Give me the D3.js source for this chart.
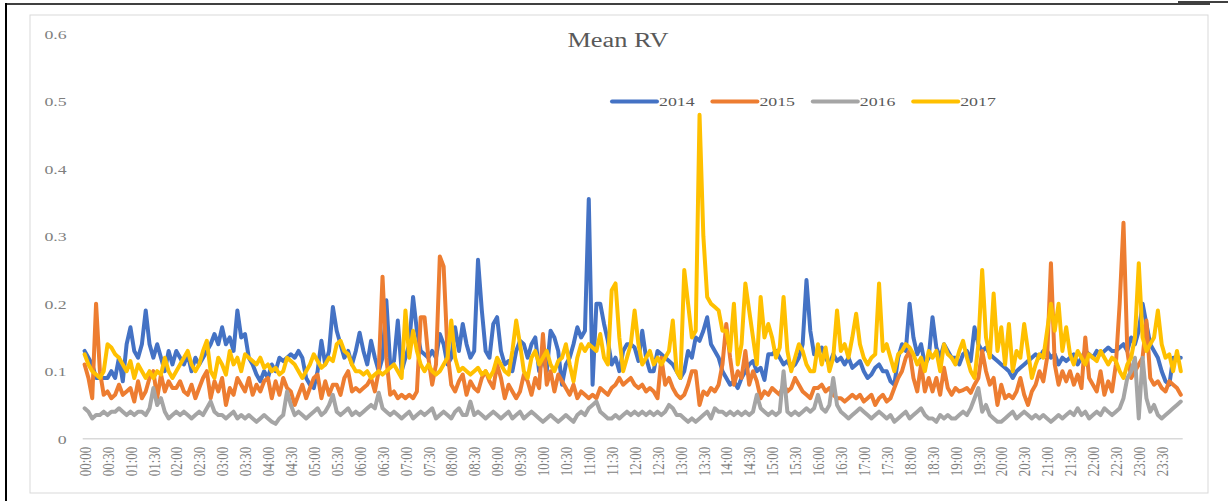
<!DOCTYPE html>
<html>
<head>
<meta charset="utf-8">
<script src="https://cdn.jsdelivr.net/npm/d3@7"></script>
<style>
  body { margin: 0; background: #fff; }
  text { font-family: "Liberation Serif", "DejaVu Serif", serif; }
</style>
</head>
<body>
<div id="chart"></div>
<script>
// data: mean RV per 5-minute slot, 288 slots per year
var years = ["2014", "2015", "2016", "2017"];
var colors = ["#4472C4", "#ED7D31", "#A5A5A5", "#FFC000"];

var rv2014 = [
  0.13, 0.12, 0.11, 0.09, 0.09, 0.09,   0.09, 0.10, 0.09, 0.12, 0.085, 0.14,
  0.165, 0.13, 0.12, 0.14, 0.19, 0.14,  0.12, 0.14, 0.12, 0.10, 0.13, 0.11,
  0.13, 0.12, 0.11, 0.125, 0.10, 0.12,  0.11, 0.12, 0.13, 0.14, 0.155, 0.14,
  0.165, 0.14, 0.15, 0.13, 0.19, 0.15,  0.155, 0.12, 0.11, 0.095, 0.085, 0.10,
  0.09, 0.11, 0.10, 0.12, 0.115, 0.12,  0.125, 0.12, 0.13, 0.12, 0.09, 0.08,
  0.075, 0.10, 0.145, 0.11, 0.13, 0.195, 0.16, 0.14, 0.12, 0.13, 0.11, 0.13,
  0.157, 0.13, 0.11, 0.145, 0.12, 0.10, 0.12, 0.205, 0.11, 0.115, 0.175, 0.10,
  0.12, 0.14, 0.21, 0.16, 0.13, 0.125,  0.12, 0.13, 0.12, 0.155, 0.14, 0.11,
  0.12, 0.165, 0.13, 0.17, 0.14, 0.12,  0.13, 0.265, 0.19, 0.13, 0.12, 0.17,
  0.18, 0.13, 0.11, 0.115, 0.10, 0.13,  0.145, 0.14, 0.12, 0.14, 0.15, 0.10,
  0.12, 0.10, 0.16, 0.15, 0.13, 0.08,   0.11, 0.12, 0.14, 0.165, 0.15, 0.16,
  0.355, 0.08, 0.20, 0.20, 0.17, 0.145, 0.11, 0.12, 0.10, 0.13, 0.14, 0.14,
  0.135, 0.115, 0.16, 0.12, 0.10, 0.10, 0.13, 0.125, 0.12, 0.115, 0.11, 0.10,
  0.09, 0.10, 0.13, 0.12, 0.15, 0.145,  0.16, 0.18, 0.14, 0.13, 0.12, 0.10,
  0.09, 0.08, 0.085, 0.075, 0.09, 0.10, 0.11, 0.115, 0.10, 0.105, 0.087, 0.125,
  0.125, 0.13, 0.12, 0.11, 0.115, 0.105, 0.11, 0.12, 0.14, 0.235, 0.16, 0.125,
  0.125, 0.135, 0.12, 0.11, 0.125, 0.115, 0.12, 0.11, 0.12, 0.105, 0.11, 0.115,
  0.10, 0.09, 0.095, 0.105, 0.11, 0.10, 0.10, 0.085, 0.08, 0.12, 0.14, 0.13,
  0.20, 0.15, 0.125, 0.14, 0.11, 0.12,  0.18, 0.135, 0.12, 0.14, 0.13, 0.12,
  0.12, 0.11, 0.125, 0.13, 0.115, 0.165, 0.14, 0.13, 0.135, 0.125, 0.12, 0.115,
  0.11, 0.105, 0.10, 0.09, 0.10, 0.105, 0.11, 0.115, 0.12, 0.125, 0.12, 0.13,
  0.13, 0.12, 0.125, 0.11, 0.12, 0.115, 0.12, 0.125, 0.11, 0.12, 0.13, 0.125,
  0.12, 0.13, 0.125, 0.13, 0.135, 0.13, 0.13, 0.135, 0.14, 0.13, 0.15, 0.14,
  0.16, 0.20, 0.17, 0.14, 0.13, 0.12,   0.10, 0.085, 0.08, 0.12, 0.12, 0.12
];

var rv2015 = [
  0.11, 0.09, 0.06, 0.20, 0.10, 0.065,  0.07, 0.06, 0.065, 0.08, 0.065, 0.07,
  0.075, 0.055, 0.085, 0.06, 0.07, 0.09, 0.10, 0.06, 0.095, 0.07, 0.085, 0.075,
  0.075, 0.085, 0.07, 0.065, 0.08, 0.06, 0.075, 0.09, 0.10, 0.06, 0.085, 0.07,
  0.09, 0.05, 0.075, 0.065, 0.09, 0.08, 0.07, 0.09, 0.065, 0.08, 0.07, 0.085,
  0.09, 0.06, 0.085, 0.065, 0.09, 0.075, 0.07, 0.05, 0.065, 0.08, 0.06, 0.075,
  0.09, 0.095, 0.06, 0.085, 0.065, 0.08, 0.08, 0.065, 0.09, 0.10, 0.07, 0.075,
  0.07, 0.075, 0.08, 0.09, 0.07, 0.10,  0.24, 0.12, 0.065, 0.07, 0.06, 0.065,
  0.06, 0.065, 0.06, 0.07, 0.18, 0.18,  0.12, 0.08, 0.11, 0.27, 0.255, 0.13,
  0.08, 0.07, 0.085, 0.095, 0.065, 0.085, 0.075, 0.07, 0.09, 0.10, 0.085, 0.075,
  0.11, 0.09, 0.06, 0.08, 0.07, 0.06,   0.07, 0.095, 0.085, 0.065, 0.09, 0.075,
  0.155, 0.08, 0.10, 0.07, 0.095, 0.085, 0.075, 0.065, 0.08, 0.06, 0.07, 0.065,
  0.06, 0.065, 0.06, 0.075, 0.07, 0.065, 0.075, 0.08, 0.09, 0.08, 0.085, 0.09,
  0.08, 0.075, 0.08, 0.07, 0.075, 0.07, 0.06, 0.12, 0.08, 0.09, 0.075, 0.065,
  0.06, 0.065, 0.08, 0.10, 0.10, 0.05,  0.07, 0.065, 0.075, 0.07, 0.08, 0.11,
  0.17, 0.12, 0.08, 0.10, 0.09, 0.13,   0.08, 0.10, 0.085, 0.06, 0.07, 0.065,
  0.075, 0.07, 0.065, 0.08, 0.07, 0.075, 0.09, 0.08, 0.07, 0.065, 0.06, 0.075,
  0.075, 0.08, 0.07, 0.075, 0.065, 0.06, 0.06, 0.055, 0.06, 0.065, 0.06, 0.065,
  0.055, 0.06, 0.065, 0.05, 0.06, 0.065, 0.055, 0.06, 0.075, 0.09, 0.10, 0.12,
  0.13, 0.09, 0.07, 0.11, 0.07, 0.09,   0.07, 0.09, 0.065, 0.105, 0.075, 0.065,
  0.075, 0.07, 0.072, 0.075, 0.068, 0.08, 0.09, 0.13, 0.10, 0.08, 0.09, 0.05,
  0.08, 0.06, 0.065, 0.06, 0.07, 0.09,  0.065, 0.05, 0.07, 0.08, 0.10, 0.085,
  0.12, 0.26, 0.11, 0.08, 0.10, 0.085,  0.10, 0.08, 0.095, 0.075, 0.15, 0.09,
  0.08, 0.07, 0.10, 0.065, 0.085, 0.07, 0.11, 0.20, 0.32, 0.13, 0.09, 0.10,
  0.11, 0.12, 0.175, 0.09, 0.08, 0.085, 0.075, 0.07, 0.085, 0.08, 0.075, 0.065
];

var rv2016 = [
  0.045, 0.04, 0.03, 0.035, 0.035, 0.04, 0.035, 0.04, 0.04, 0.045, 0.04, 0.035,
  0.04, 0.035, 0.04, 0.04, 0.035, 0.045, 0.075, 0.05, 0.06, 0.04, 0.03, 0.035,
  0.04, 0.035, 0.04, 0.035, 0.03, 0.035, 0.04, 0.035, 0.045, 0.055, 0.04, 0.035,
  0.035, 0.03, 0.035, 0.04, 0.03, 0.035, 0.03, 0.035, 0.03, 0.025, 0.03, 0.035,
  0.03, 0.025, 0.022, 0.03, 0.035, 0.07, 0.05, 0.035, 0.04, 0.035, 0.03, 0.035,
  0.04, 0.045, 0.035, 0.04, 0.05, 0.065, 0.04, 0.035, 0.04, 0.045, 0.035, 0.04,
  0.035, 0.04, 0.045, 0.05, 0.045, 0.068, 0.045, 0.04, 0.035, 0.04, 0.035, 0.03,
  0.035, 0.04, 0.03, 0.035, 0.04, 0.035, 0.04, 0.045, 0.03, 0.035, 0.04, 0.035,
  0.03, 0.04, 0.045, 0.035, 0.035, 0.055, 0.035, 0.04, 0.035, 0.03, 0.035, 0.04,
  0.035, 0.03, 0.035, 0.04, 0.03, 0.035, 0.04, 0.03, 0.035, 0.04, 0.035, 0.03,
  0.025, 0.03, 0.035, 0.03, 0.025, 0.03, 0.035, 0.03, 0.025, 0.035, 0.04, 0.035,
  0.045, 0.05, 0.055, 0.04, 0.035, 0.03, 0.03, 0.035, 0.03, 0.035, 0.04, 0.035,
  0.04, 0.035, 0.04, 0.035, 0.04, 0.035, 0.04, 0.035, 0.04, 0.05, 0.045, 0.035,
  0.035, 0.03, 0.025, 0.03, 0.025, 0.03, 0.035, 0.04, 0.03, 0.045, 0.04, 0.04,
  0.035, 0.04, 0.035, 0.04, 0.035, 0.04, 0.035, 0.04, 0.065, 0.045, 0.04, 0.035,
  0.04, 0.035, 0.04, 0.10, 0.04, 0.035, 0.04, 0.035, 0.04, 0.045, 0.04, 0.045,
  0.065, 0.045, 0.04, 0.05, 0.09, 0.05, 0.04, 0.035, 0.03, 0.035, 0.04, 0.045,
  0.04, 0.035, 0.03, 0.035, 0.04, 0.035, 0.03, 0.035, 0.025, 0.03, 0.035, 0.04,
  0.03, 0.035, 0.04, 0.045, 0.035, 0.03, 0.03, 0.025, 0.035, 0.03, 0.035, 0.03,
  0.03, 0.035, 0.04, 0.035, 0.045, 0.06, 0.075, 0.04, 0.05, 0.035, 0.03, 0.025,
  0.025, 0.03, 0.035, 0.04, 0.03, 0.035, 0.04, 0.035, 0.03, 0.035, 0.03, 0.035,
  0.03, 0.025, 0.03, 0.035, 0.03, 0.035, 0.04, 0.035, 0.045, 0.035, 0.04, 0.03,
  0.035, 0.04, 0.035, 0.045, 0.04, 0.035, 0.04, 0.045, 0.06, 0.09, 0.10, 0.12,
  0.03, 0.12, 0.06, 0.04, 0.05, 0.035, 0.03, 0.035, 0.04, 0.045, 0.05, 0.055
];

var rv2017 = [
  0.125, 0.11, 0.10, 0.095, 0.09, 0.10, 0.14, 0.135, 0.125, 0.12, 0.11, 0.10,
  0.115, 0.09, 0.11, 0.10, 0.09, 0.10,  0.09, 0.10, 0.095, 0.12, 0.10, 0.09,
  0.10, 0.11, 0.12, 0.13, 0.11, 0.10,   0.11, 0.13, 0.145, 0.10, 0.09, 0.12,
  0.11, 0.095, 0.13, 0.11, 0.12, 0.10,  0.125, 0.12, 0.115, 0.11, 0.12, 0.105,
  0.11, 0.10, 0.105, 0.095, 0.10, 0.12, 0.115, 0.11, 0.10, 0.09, 0.10, 0.11,
  0.125, 0.115, 0.105, 0.11, 0.12, 0.115, 0.14, 0.145, 0.13, 0.125, 0.11, 0.10,
  0.10, 0.095, 0.10, 0.09, 0.095, 0.10, 0.095, 0.10, 0.105, 0.11, 0.10, 0.09,
  0.19, 0.12, 0.16, 0.13, 0.11, 0.10,   0.11, 0.10, 0.095, 0.10, 0.11, 0.12,
  0.175, 0.12, 0.10, 0.105, 0.10, 0.095, 0.10, 0.105, 0.095, 0.10, 0.09, 0.10,
  0.12, 0.11, 0.10, 0.095, 0.13, 0.175, 0.14, 0.10, 0.09, 0.12, 0.13, 0.11,
  0.12, 0.13, 0.11, 0.10, 0.115, 0.12,  0.14, 0.11, 0.085, 0.12, 0.14, 0.13,
  0.14, 0.135, 0.13, 0.155, 0.12, 0.11, 0.22, 0.23, 0.15, 0.10, 0.12, 0.14,
  0.19, 0.14, 0.11, 0.12, 0.13, 0.11,   0.12, 0.11, 0.12, 0.13, 0.175, 0.10,
  0.09, 0.25, 0.20, 0.15, 0.16, 0.48,   0.30, 0.21, 0.20, 0.195, 0.19, 0.16,
  0.16, 0.13, 0.20, 0.11, 0.14, 0.23,   0.19, 0.15, 0.11, 0.21, 0.15, 0.17,
  0.15, 0.12, 0.135, 0.21, 0.13, 0.10,  0.12, 0.14, 0.13, 0.11, 0.10, 0.10,
  0.14, 0.11, 0.135, 0.10, 0.12, 0.19,  0.13, 0.14, 0.12, 0.15, 0.185, 0.14,
  0.12, 0.11, 0.12, 0.125, 0.23, 0.13,  0.14, 0.12, 0.10, 0.125, 0.13, 0.14,
  0.135, 0.125, 0.11, 0.12, 0.10, 0.13, 0.12, 0.13, 0.10, 0.14, 0.125, 0.12,
  0.11, 0.13, 0.145, 0.12, 0.10, 0.09,  0.14, 0.25, 0.15, 0.12, 0.215, 0.13,
  0.165, 0.11, 0.17, 0.10, 0.13, 0.12,  0.17, 0.13, 0.09, 0.11, 0.125, 0.12,
  0.16, 0.20, 0.16, 0.20, 0.13, 0.165,  0.125, 0.11, 0.13, 0.12, 0.11, 0.125,
  0.12, 0.115, 0.13, 0.12, 0.11, 0.12,  0.115, 0.10, 0.09, 0.11, 0.12, 0.15,
  0.26, 0.15, 0.13, 0.14, 0.15, 0.19,   0.14, 0.12, 0.125, 0.10, 0.13, 0.10
];

var seriesValues = [rv2014, rv2015, rv2016, rv2017];

// 5-minute slots and the 30-minute tick labels
var slots = d3.range(288);
var tickLabels = [
  "00:00","00:30","01:00","01:30","02:00","02:30","03:00","03:30",
  "04:00","04:30","05:00","05:30","06:00","06:30","07:00","07:30",
  "08:00","08:30","09:00","09:30","10:00","10:30","11:00","11:30",
  "12:00","12:30","13:00","13:30","14:00","14:30","15:00","15:30",
  "16:00","16:30","17:00","17:30","18:00","18:30","19:00","19:30",
  "20:00","20:30","21:00","21:30","22:00","22:30","23:00","23:30"
];
var yTicks = [0, 0.1, 0.2, 0.3, 0.4, 0.5, 0.6];

var svgWidth = 1228;
var svgHeight = 501;
var stretch = 1.32; // the picture is stretched sideways, text too

var svg = d3.select("#chart")
  .append("svg")
  .attr("width", svgWidth)
  .attr("height", svgHeight);

svg.append("rect")
  .attr("width", svgWidth)
  .attr("height", svgHeight)
  .attr("fill", "#fff");

// frame lines from the screenshot
svg.append("line")
  .attr("x1", 6).attr("x2", 6).attr("y1", 3).attr("y2", 501)
  .attr("stroke", "#000").attr("stroke-width", 2);
svg.append("line")
  .attr("x1", 5).attr("x2", 1210).attr("y1", 4).attr("y2", 4)
  .attr("stroke", "#000").attr("stroke-width", 1.5);
svg.append("line")
  .attr("x1", 1178).attr("x2", 1228).attr("y1", 2).attr("y2", 2)
  .attr("stroke", "#000").attr("stroke-width", 1.5);

// chart area border
svg.append("rect")
  .attr("x", 30).attr("y", 15)
  .attr("width", 1178).attr("height", 478)
  .attr("fill", "#fff")
  .attr("stroke", "#d9d9d9")
  .attr("stroke-width", 1);

var plot = { left: 82.7, right: 1182.7, top: 33.7, bottom: 438.7 };

var x = d3.scaleBand()
  .domain(slots)
  .range([plot.left, plot.right]);

var y = d3.scaleLinear()
  .domain([0, 0.6])
  .range([plot.bottom, plot.top]);

// x axis
var xAxis = d3.axisBottom(x)
  .tickValues(slots.filter(d => d % 6 === 0))
  .tickFormat(d => tickLabels[d / 6])
  .tickSize(0);

var xg = svg.append("g")
  .attr("transform", `translate(0, ${plot.bottom})`)
  .call(xAxis);

xg.select(".domain")
  .attr("stroke", "#d9d9d9")
  .attr("stroke-width", 1.5)
  .attr("d", `M${plot.left},0H${plot.right}`);

xg.selectAll(".tick text")
  .attr("x", 0).attr("y", 0).attr("dy", "0.36em")
  .attr("transform", `translate(0, 8) scale(${stretch}, 1) rotate(-90)`)
  .attr("text-anchor", "end")
  .attr("fill", "#7f7f7f")
  .style("font-size", "13px")
  .style("font-family", "'Liberation Serif', serif");

// y axis
var yAxis = d3.axisLeft(y)
  .tickValues(yTicks)
  .tickFormat(d => d === 0 ? "0" : d.toFixed(1))
  .tickSize(0);

var yg = svg.append("g")
  .attr("transform", `translate(${plot.left}, 0)`)
  .call(yAxis);

yg.select(".domain").remove();

yg.selectAll(".tick text")
  .attr("x", 0).attr("dy", "0.34em")
  .attr("transform", `translate(-16, 0) scale(${stretch}, 1)`)
  .attr("text-anchor", "end")
  .attr("fill", "#7f7f7f")
  .style("font-size", "13.5px")
  .style("font-family", "'Liberation Serif', serif");

// lines
var line = d3.line()
  .x((d, i) => x(i) + x.bandwidth() / 2)
  .y(d => y(d))
  .curve(d3.curveLinear);

svg.selectAll(".series")
  .data(seriesValues)
  .enter()
  .append("path")
  .attr("class", "series")
  .attr("d", d => line(d))
  .attr("fill", "none")
  .attr("stroke", (d, i) => colors[i])
  .attr("stroke-width", 4)
  .attr("stroke-linejoin", "round")
  .attr("stroke-linecap", "round");

// title
svg.append("text")
  .attr("transform", `translate(618, 47) scale(${stretch}, 1)`)
  .attr("text-anchor", "middle")
  .attr("fill", "#595959")
  .style("font-size", "20px")
  .text("Mean RV");

// legend
var legend = svg.selectAll(".legend")
  .data(years)
  .enter()
  .append("g")
  .attr("class", "legend")
  .attr("transform", (d, i) => `translate(${612 + i * 100.4}, 101.5)`);

legend.append("line")
  .attr("x1", 0).attr("x2", 45)
  .attr("stroke", (d, i) => colors[i])
  .attr("stroke-width", 4)
  .attr("stroke-linecap", "round");

legend.append("text")
  .attr("transform", `translate(47, 4.8) scale(${stretch}, 1)`)
  .attr("fill", "#595959")
  .style("font-size", "13.5px")
  .text(d => d);
</script>
</body>
</html>
